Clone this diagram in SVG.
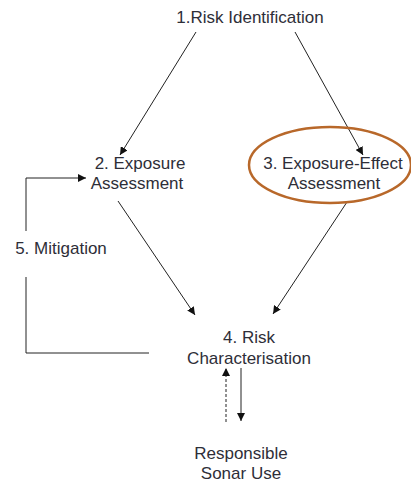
<svg xmlns="http://www.w3.org/2000/svg" width="411" height="483" viewBox="0 0 411 483">
<style>
text{font-family:"Liberation Sans",Arial,sans-serif;font-size:17px;fill:#2e2e38;text-anchor:middle}
.c{stroke:#222;stroke-width:1;fill:none}
</style>
<defs>
<marker id="a" viewBox="0 0 10 10" refX="10" refY="5" markerWidth="8" markerHeight="8" markerUnits="userSpaceOnUse" orient="auto"><path d="M0,0L10,5L0,10z" fill="#111"/></marker>
</defs>
<rect width="411" height="483" fill="#fff"/>
<g id="connectors">
<line class="c" x1="196" y1="32" x2="120" y2="155" marker-end="url(#a)"/>
<line class="c" x1="295" y1="32" x2="363" y2="155" marker-end="url(#a)"/>
<line class="c" x1="118" y1="201" x2="195" y2="315" marker-end="url(#a)"/>
<line class="c" x1="347" y1="202" x2="273" y2="314" marker-end="url(#a)"/>
<polyline class="c" points="26,231 26,178 86,178" marker-end="url(#a)"/>
<polyline class="c" points="26,277 26,353 149,353"/>
<line class="c" x1="226" y1="422" x2="226" y2="368" stroke-dasharray="3,2" marker-end="url(#a)"/>
<line class="c" x1="241" y1="368" x2="241" y2="421" marker-end="url(#a)"/>
</g>
<g id="n1"><text x="250" y="23">1.Risk Identification</text></g>
<g id="n2"><text x="140" y="169">2. Exposure</text><text x="137" y="189">Assessment</text></g>
<g id="n3"><ellipse cx="330" cy="165" rx="81" ry="38" fill="none" stroke="#b8682a" stroke-width="2.5"/><text x="333" y="169">3. Exposure-Effect</text><text x="334" y="189">Assessment</text></g>
<g id="n5"><text x="61" y="254">5. Mitigation</text></g>
<g id="n4"><text x="249" y="343">4. Risk</text><text x="249" y="364">Characterisation</text></g>
<g id="n6"><text x="241" y="459">Responsible</text><text x="241" y="479">Sonar Use</text></g>
</svg>
